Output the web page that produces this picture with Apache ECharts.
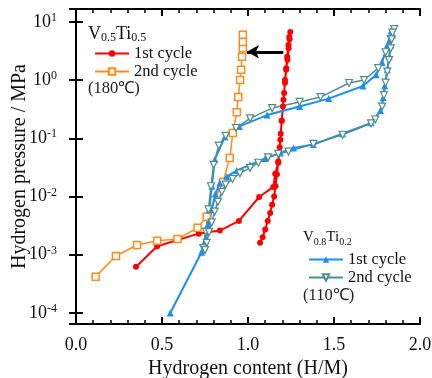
<!DOCTYPE html>
<html>
<head>
<meta charset="utf-8">
<script src="https://cdn.jsdelivr.net/npm/echarts@6/dist/echarts.min.js"></script>
<style>
  html, body { margin: 0; padding: 0; background: #fff; }
  #chart { width: 432px; height: 378px; }
</style>
</head>
<body>
<div id="chart"></div>
<script>
// V0.5Ti0.5, 180 C  [H/M, MPa]
var v55Cycle1 = [
  [0.349, 6.2e-4], [0.472, 1.4e-3], [0.713, 2.3e-3], [0.836, 2.6e-3], [0.947, 3.8e-3],
  [1.065, 9.8e-3], [1.147, 0.0146], [1.158, 0.0245], [1.176, 0.038], [1.188, 0.094],
  [1.196, 0.2], [1.206, 0.457], [1.215, 0.9], [1.222, 1.5], [1.229, 2.22], [1.236, 3.5],
  [1.242, 5.0], [1.246, 6.7],
  [1.24, 5.5], [1.235, 4.0], [1.228, 2.5], [1.222, 1.6], [1.215, 1.0], [1.21, 0.6],
  [1.203, 0.35], [1.196, 0.2], [1.19, 0.12], [1.184, 0.07], [1.176, 0.04], [1.168, 0.024],
  [1.16, 0.015], [1.152, 0.01], [1.14, 0.0072], [1.129, 0.0052], [1.115, 0.0038],
  [1.1, 0.0027], [1.085, 0.002], [1.07, 0.0016]
]
var v55Cycle2 = [
  [0.114, 4.2e-4], [0.232, 9.5e-4], [0.355, 1.47e-3], [0.472, 1.74e-3], [0.59, 1.87e-3],
  [0.707, 2.9e-3], [0.76, 4.5e-3], [0.855, 0.0178], [0.894, 0.046], [0.912, 0.123],
  [0.935, 0.28], [0.943, 0.51], [0.954, 1.0], [0.96, 1.5], [0.965, 2.5], [0.97, 3.5],
  [0.97, 4.5], [0.97, 6.0]
]
// V0.8Ti0.2, 110 C
var v82Cycle1 = [
  [0.548, 1.0e-4], [0.73, 1.1e-3], [0.745, 1.6e-3], [0.76, 3.0e-3], [0.775, 6e-3],
  [0.79, 0.015], [0.807, 0.043], [0.866, 0.106], [0.95, 0.16], [1.111, 0.25], [1.3, 0.35],
  [1.469, 0.48], [1.669, 0.79], [1.745, 1.23], [1.78, 2.0], [1.81, 4.0], [1.833, 7.0],
  [1.84, 6.0], [1.83, 4.0], [1.82, 2.5], [1.81, 1.5], [1.795, 0.8], [1.786, 0.5],
  [1.77, 0.3], [1.716, 0.184], [1.55, 0.12], [1.38, 0.078], [1.264, 0.068], [1.188, 0.056],
  [1.1, 0.045], [1.012, 0.035], [0.935, 0.028], [0.877, 0.022], [0.836, 0.017],
  [0.81, 0.011], [0.79, 0.006], [0.77, 0.003], [0.75, 0.0016], [0.735, 0.0012]
]
var v82Cycle2 = [
  [0.74, 1.3e-3], [0.755, 2.5e-3], [0.77, 6e-3], [0.785, 0.015], [0.8, 0.035], [0.83, 0.075],
  [0.87, 0.11], [0.93, 0.15], [1.012, 0.22], [1.14, 0.33], [1.3, 0.42], [1.422, 0.51],
  [1.587, 0.89], [1.675, 1.0], [1.757, 1.6], [1.8, 3.0], [1.83, 5.0], [1.85, 7.5],
  [1.84, 6.5], [1.835, 5], [1.83, 3.5], [1.82, 2.2], [1.81, 1.4], [1.8, 0.9], [1.79, 0.55],
  [1.78, 0.35], [1.74, 0.21], [1.716, 0.18], [1.55, 0.115], [1.38, 0.08], [1.235, 0.059],
  [1.176, 0.054], [1.117, 0.047], [1.06, 0.038], [1.012, 0.031], [0.953, 0.025], [0.91, 0.02],
  [0.87, 0.016], [0.848, 0.012], [0.825, 0.0081], [0.806, 0.0055], [0.789, 0.0036],
  [0.773, 0.00245], [0.76, 0.0016], [0.75, 0.0012]
]
// shift arrow from 1st to 2nd cycle
var arrowFrom = [1.205, 3.06]
var arrowTo = [0.994, 3.06]

var legendNames = { a1: '1st cycle', a2: '2nd cycle', b1: '1st cycle', b2: '2nd cycle' }

var font = 'Liberation Serif'
var yMin = Math.pow(10, -4.19)
var yMax = Math.pow(10, 1.22)

var chart = echarts.init(document.getElementById('chart'))

function yLabel (v) {
  var e = Math.round(Math.log10(v))
  return '{b|10}{s|' + e + '}'
}

var xBase = {
  type: 'value',
  min: 0,
  max: 2,
  interval: 0.5,
  axisLine: { lineStyle: { color: '#000', width: 2 } },
  axisTick: { inside: true, length: 7, lineStyle: { color: '#000', width: 2 } },
  minorTick: { show: true, splitNumber: 5, length: 4, lineStyle: { color: '#000', width: 1.5 } },
  splitLine: { show: false }
}
var yBase = {
  type: 'log',
  min: yMin,
  max: yMax,
  axisLine: { lineStyle: { color: '#000', width: 2 } },
  axisTick: { inside: true, length: 7, lineStyle: { color: '#000', width: 2 } },
  splitLine: { show: false }
}

var legendText = { fontFamily: font, fontSize: 16.5, color: '#111' }
var subRich = function (big, small) {
  return {
    a: { fontFamily: font, fontSize: big, fill: '#111', lineHeight: 20 },
    s: { fontFamily: font, fontSize: small, fill: '#111', lineHeight: 20, verticalAlign: 'bottom' }
  }
}

chart.setOption({
  animation: false,
  grid: { left: 76, right: 12, top: 9, bottom: 54, outerBoundsMode: 'none', containLabel: false },
  xAxis: [
    Object.assign({}, xBase, {
      position: 'bottom',
      name: 'Hydrogen content (H/M)',
      nameLocation: 'middle',
      nameGap: 33,
      nameTextStyle: { fontFamily: font, fontSize: 20, color: '#111' },
      axisLabel: { margin: 12, fontFamily: font, fontSize: 18, color: '#111', formatter: function (v) { return v.toFixed(1) } }
    }),
    Object.assign({}, xBase, { position: 'top', axisLabel: { show: false } })
  ],
  yAxis: [
    Object.assign({}, yBase, {
      position: 'left',
      name: 'Hydrogen pressure / MPa',
      nameLocation: 'middle',
      nameGap: 46,
      nameMoveOverlap: false,
      nameTextStyle: { fontFamily: font, fontSize: 20, color: '#111' },
      axisLabel: {
        margin: 19,
        showMinLabel: false,
        showMaxLabel: false,
        formatter: yLabel,
        rich: {
          b: { fontFamily: font, fontSize: 18, color: '#111', lineHeight: 20 },
          s: { fontFamily: font, fontSize: 12, color: '#111', lineHeight: 20, verticalAlign: 'top' }
        }
      }
    }),
    Object.assign({}, yBase, { position: 'right', axisLabel: { show: false } })
  ],
  legend: [
    {
      data: ['a1', 'a2'],
      orient: 'vertical',
      left: 89,
      top: 40,
      itemWidth: 34,
      itemHeight: 8,
      itemGap: 1,
      selectedMode: false,
      formatter: function (n) { return legendNames[n] },
      textStyle: legendText
    },
    {
      data: ['b1', 'b2'],
      orient: 'vertical',
      left: 303,
      top: 246,
      itemWidth: 34,
      itemHeight: 8,
      itemGap: 1,
      selectedMode: false,
      formatter: function (n) { return legendNames[n] },
      textStyle: legendText
    }
  ],
  graphic: [
    {
      type: 'text', left: 88, top: 25,
      style: { text: '{a|V}{s|0.5}{a|Ti}{s|0.5}', rich: subRich(18, 12) }
    },
    { type: 'text', left: 88, top: 80, style: { text: '(180℃)', fontFamily: font, fontSize: 16.5, fill: '#222' } },
    {
      type: 'text', left: 303, top: 230,
      style: { text: '{a|V}{s|0.8}{a|Ti}{s|0.2}', rich: subRich(15, 10) }
    },
    { type: 'text', left: 303, top: 287, style: { text: '(110℃)', fontFamily: font, fontSize: 16.5, fill: '#222' } }
  ],
  series: [
    {
      name: 'a1', type: 'line', data: v55Cycle1,
      symbol: 'circle', symbolSize: 6,
      lineStyle: { color: '#ff0000', width: 2 },
      itemStyle: { color: '#ff0000' }
    },
    {
      name: 'a2', type: 'line', data: v55Cycle2,
      symbol: 'rect', symbolSize: 7,
      lineStyle: { color: '#ff8c1a', width: 1.5 },
      itemStyle: { color: '#fff', borderColor: '#ff8c1a', borderWidth: 1.5 },
      markLine: {
        silent: true,
        symbol: ['none', 'arrow'],
        symbolSize: [10, 12],
        label: { show: false },
        lineStyle: { color: '#000', width: 3, type: 'solid' },
        data: [[{ coord: arrowFrom }, { coord: arrowTo }]]
      }
    },
    {
      name: 'b1', type: 'line', data: v82Cycle1,
      symbol: 'triangle', symbolSize: 7,
      lineStyle: { color: '#1e8ef0', width: 2 },
      itemStyle: { color: '#1e8ef0' }
    },
    {
      name: 'b2', type: 'line', data: v82Cycle2,
      symbol: 'triangle', symbolSize: 7, symbolRotate: 180,
      lineStyle: { color: '#4f8f8a', width: 1.5 },
      itemStyle: { color: '#fff', borderColor: '#4f8f8a', borderWidth: 1.2 }
    }
  ]
})
</script>
</body>
</html>
